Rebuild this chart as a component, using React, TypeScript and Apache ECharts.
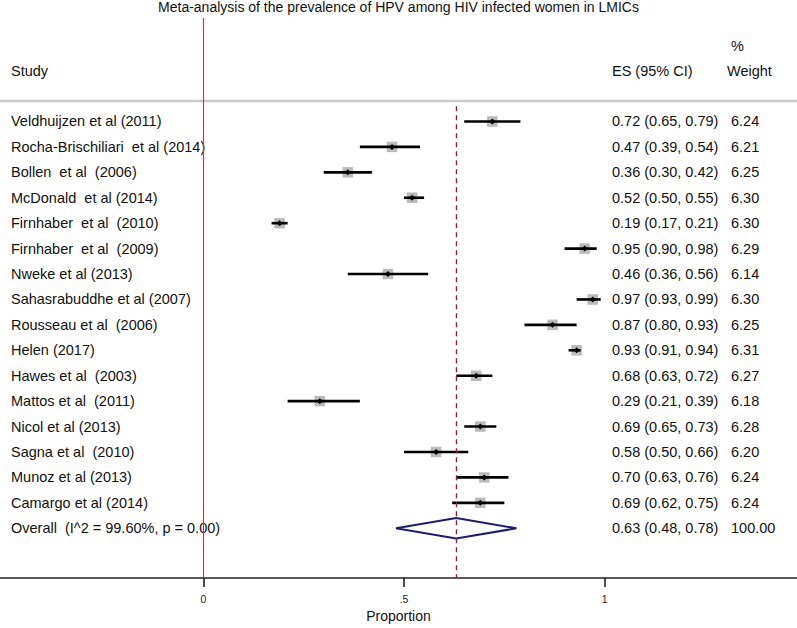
import React, { useEffect, useRef } from "react";
import * as echarts from "echarts";

const titleText = "Meta-analysis of the prevalence of HPV among HIV infected women in LMICs";
const studies = [
  "Veldhuijzen et al (2011)",
  "Rocha-Brischiliari  et al (2014)",
  "Bollen  et al  (2006)",
  "McDonald  et al (2014)",
  "Firnhaber  et al  (2010)",
  "Firnhaber  et al  (2009)",
  "Nweke et al (2013)",
  "Sahasrabuddhe et al (2007)",
  "Rousseau et al  (2006)",
  "Helen (2017)",
  "Hawes et al  (2003)",
  "Mattos et al  (2011)",
  "Nicol et al (2013)",
  "Sagna et al  (2010)",
  "Munoz et al (2013)",
  "Camargo et al (2014)",
];
const es = [0.72, 0.47, 0.36, 0.52, 0.19, 0.95, 0.46, 0.97, 0.87, 0.93, 0.68, 0.29, 0.69, 0.58, 0.7, 0.69];
const lo = [0.65, 0.39, 0.3, 0.5, 0.17, 0.9, 0.36, 0.93, 0.8, 0.91, 0.63, 0.21, 0.65, 0.5, 0.63, 0.62];
const hi = [0.79, 0.54, 0.42, 0.55, 0.21, 0.98, 0.56, 0.99, 0.93, 0.94, 0.72, 0.39, 0.73, 0.66, 0.76, 0.75];
const weights = [6.24, 6.21, 6.25, 6.3, 6.3, 6.29, 6.14, 6.3, 6.25, 6.31, 6.27, 6.18, 6.28, 6.2, 6.24, 6.24];

const overallLabel = "Overall  (I^2 = 99.60%, p = 0.00)";
const overallES = 0.63;
const overallLo = 0.48;
const overallHi = 0.78;
const overallWeight = 100.0;

const tickValues = [0, 0.5, 1];
const tickLabels = ["0", ".5", "1"];
const axisName = "Proportion";
const headerStudy = "Study";
const headerES = "ES (95% CI)";
const headerPct = "%";
const headerWeight = "Weight";

const FONT = "'Liberation Sans', Arial, sans-serif";
const ROWFONT = `14.5px ${FONT}`;

export default function App() {
  const ref = useRef<HTMLDivElement>(null);
  useEffect(() => {
    document.body.style.margin = "0";
    if (!ref.current) return;
    const chart = echarts.init(ref.current, null, { renderer: "svg" });

    const allLabels = [...studies, overallLabel];
    const allES = [...es, overallES];
    const allLo = [...lo, overallLo];
    const allHi = [...hi, overallHi];
    const allW = [...weights, overallWeight];

    const studyData = studies.map((_, i) => [i, es[i], lo[i], hi[i], weights[i]]);
    const overallData = [[studies.length, overallES, overallLo, overallHi, overallWeight]];
    const textData = allLabels.map((_, i) => [i, 0]);

    const option: any = {
      animation: false,
      title: {
        text: titleText,
        left: "center",
        top: 0,
        padding: 0,
        textStyle: { fontSize: 14, fontWeight: "normal", color: "#111", fontFamily: FONT },
      },
      grid: { left: 0, right: 0, top: 18, bottom: 43.7 },
      xAxis: {
        type: "value",
        min: -0.5065,
        max: 1.479,
        position: "bottom",
        axisLine: { show: true, onZero: false, lineStyle: { color: "#222", width: 1.6 } },
        axisTick: { show: true, length: 9, customValues: tickValues, lineStyle: { color: "#222", width: 1.6 } },
        axisLabel: {
          customValues: tickValues,
          formatter: (v: number) => tickLabels[tickValues.indexOf(v)] ?? "",
          fontSize: 10.5,
          color: "#222",
          margin: 15,
          fontFamily: FONT,
        },
        splitLine: { show: false },
        name: axisName,
        nameLocation: "middle",
        nameGap: 29,
        nameTextStyle: { fontSize: 14, color: "#111", fontFamily: FONT },
      },
      yAxis: { type: "value", inverse: true, min: -4.07, max: 17.96, show: false },
      graphic: [
        { type: "line", shape: { x1: 0, y1: 101, x2: 797, y2: 101 }, style: { stroke: "#c8c8c8", lineWidth: 2.5 } },
        { type: "text", x: 731, y: 46, style: { text: headerPct, font: ROWFONT, fill: "#111", verticalAlign: "middle" } },
        { type: "text", x: 11, y: 71, style: { text: headerStudy, font: ROWFONT, fill: "#111", verticalAlign: "middle" } },
        { type: "text", x: 612, y: 71, style: { text: headerES, font: ROWFONT, fill: "#111", verticalAlign: "middle" } },
        { type: "text", x: 727, y: 71, style: { text: headerWeight, font: ROWFONT, fill: "#111", verticalAlign: "middle" } },
      ],
      series: [
        {
          type: "line",
          data: [],
          silent: true,
          markLine: {
            silent: true,
            symbol: "none",
            label: { show: false },
            data: [
              { xAxis: 0, lineStyle: { color: "#c8345a", width: 1.2, type: "solid" } },
              [
                { coord: [overallES, -0.6], lineStyle: { color: "#8b2434", width: 1.4, type: [5, 4] } },
                { coord: [overallES, 17.96] },
              ],
            ],
          },
        },
        {
          type: "custom",
          data: studyData,
          encode: { x: [1, 2, 3], y: 0 },
          silent: true,
          renderItem: (params: any, api: any) => {
            const row = api.value(0);
            const c = api.coord([api.value(1), row]);
            const pl = api.coord([api.value(2), row]);
            const ph = api.coord([api.value(3), row]);
            const s = Math.sqrt(api.value(4)) * 4.2;
            return {
              type: "group",
              children: [
                { type: "rect", shape: { x: c[0] - s / 2, y: c[1] - s / 2, width: s, height: s }, style: { fill: "#bbbbbb" } },
                { type: "line", shape: { x1: pl[0], y1: c[1], x2: ph[0], y2: c[1] }, style: { stroke: "#000", lineWidth: 2.6 } },
                {
                  type: "polygon",
                  shape: { points: [[c[0] - 3, c[1]], [c[0], c[1] - 3], [c[0] + 3, c[1]], [c[0], c[1] + 3]] },
                  style: { fill: "#000" },
                },
              ],
            };
          },
        },
        {
          type: "custom",
          data: overallData,
          encode: { x: [1, 2, 3], y: 0 },
          silent: true,
          renderItem: (params: any, api: any) => {
            const row = api.value(0);
            const c = api.coord([api.value(1), row]);
            const pl = api.coord([api.value(2), row]);
            const ph = api.coord([api.value(3), row]);
            const h = 10.3;
            return {
              type: "polygon",
              shape: { points: [[pl[0], c[1]], [c[0], c[1] - h], [ph[0], c[1]], [c[0], c[1] + h]] },
              style: { fill: "none", stroke: "#1c1c78", lineWidth: 2 },
            };
          },
        },
        {
          type: "custom",
          data: textData,
          encode: { y: 0 },
          silent: true,
          renderItem: (params: any, api: any) => {
            const i = params.dataIndex;
            const y = api.coord([0, api.value(0)])[1];
            return {
              type: "group",
              children: [
                { type: "text", x: 11, y, style: { text: allLabels[i], font: ROWFONT, fill: "#111", verticalAlign: "middle" } },
                {
                  type: "text",
                  x: 612,
                  y,
                  style: {
                    text: `${allES[i].toFixed(2)} (${allLo[i].toFixed(2)}, ${allHi[i].toFixed(2)})`,
                    font: ROWFONT,
                    fill: "#111",
                    verticalAlign: "middle",
                  },
                },
                { type: "text", x: 731, y, style: { text: allW[i].toFixed(2), font: ROWFONT, fill: "#111", verticalAlign: "middle" } },
              ],
            };
          },
        },
      ],
    };
    chart.setOption(option);
    return () => chart.dispose();
  }, []);
  return <div ref={ref} style={{ width: 797, height: 628 }} />;
}
